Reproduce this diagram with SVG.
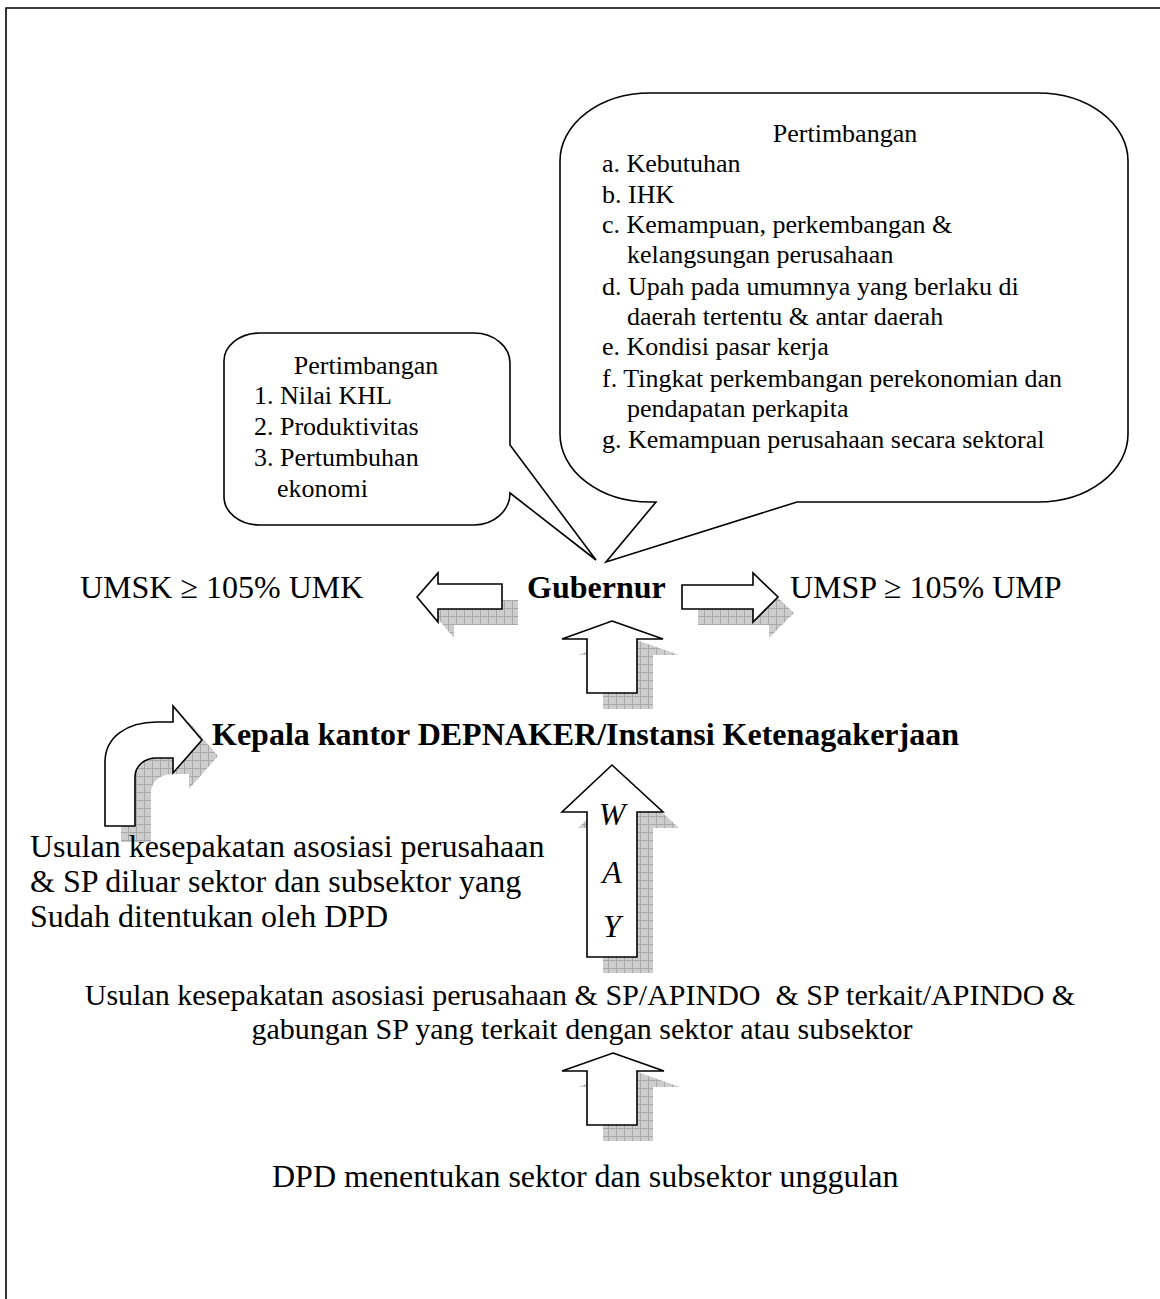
<svg xmlns="http://www.w3.org/2000/svg" width="1160" height="1299" viewBox="0 0 1160 1299">
<style>
.t{font-family:"Liberation Serif","Times New Roman",serif;fill:#000}
.r32{font-size:32px}
.r30{font-size:30px}
.c26{font-size:26px}
.b32{font-size:32px;font-weight:bold}
.i32{font-size:32px;font-style:italic}
.arrow{fill:#fff;stroke:#000;stroke-width:1.6;stroke-linejoin:miter}
.shadow{fill:url(#grid);stroke:none}
.callout{fill:#fff;stroke:#000;stroke-width:1.6}
.frame{fill:none;stroke:#000;stroke-width:1.6}
</style>
<defs>
<pattern id="grid" width="8" height="8" patternUnits="userSpaceOnUse">
<rect width="8" height="8" fill="#cdcdcd"/>
<path d="M0 0.5H8M0.5 0V8" stroke="#a9a9a9" stroke-width="1"/>
</pattern>
<path id="aLeft" d="M417,597 L438,573 L438,584 L502,584 L502,609 L438,609 L438,622 Z"/>
<path id="aRight" d="M682,585 L753,585 L753,573 L778,597 L753,622 L753,609 L682,609 Z"/>
<path id="aUp1" d="M612,621 L663,639 L637,639 L637,693 L587,693 L587,639 L562,639 Z"/>
<path id="aWay" d="M612,765 L663,812 L637,812 L637,957 L587,957 L587,812 L562,812 Z"/>
<path id="aUp2" d="M613,1053 L664,1071 L637,1071 L637,1125 L587,1125 L587,1071 L562,1071 Z"/>
<path id="aBent" d="M105,826 L105,762 C105,737 127,722 157,722 L173,722 L173,706 L202,740 L173,773 L173,758 L157,758 C143,758 135,767 135,777 L135,826 Z"/>
</defs>
<rect width="1160" height="1299" fill="#fff"/>
<path class="frame" d="M6,1299 V8 H1160"/>

<g id="connectors">
<g transform="translate(16,16)" class="shadow">
<use href="#aLeft"/><use href="#aRight"/><use href="#aUp1"/><use href="#aWay"/><use href="#aUp2"/><use href="#aBent"/>
</g>
<use href="#aLeft" class="arrow"/>
<use href="#aRight" class="arrow"/>
<use href="#aUp1" class="arrow"/>
<use href="#aWay" class="arrow"/>
<use href="#aUp2" class="arrow"/>
<use href="#aBent" class="arrow"/>
<g class="t i32" text-anchor="middle">
<text x="612" y="825">W</text>
<text x="612" y="883">A</text>
<text x="612" y="937">Y</text>
</g>
</g>

<g id="callout-big">
<path class="callout" d="M650,93 H1038 A90,68 0 0 1 1128,161 V434 A90,68 0 0 1 1038,502 H797 L606,562 L656,502 H650 A90,68 0 0 1 560,434 V161 A90,68 0 0 1 650,93 Z"/>
<g class="t c26">
<text x="845" y="142" text-anchor="middle">Pertimbangan</text>
<text x="602" y="172">a. Kebutuhan</text>
<text x="602" y="203">b. IHK</text>
<text x="602" y="233">c. Kemampuan, perkembangan &amp;</text>
<text x="627" y="263">kelangsungan perusahaan</text>
<text x="602" y="295">d. Upah pada umumnya yang berlaku di</text>
<text x="627" y="325">daerah tertentu &amp; antar daerah</text>
<text x="602" y="355">e. Kondisi pasar kerja</text>
<text x="602" y="387">f. Tingkat perkembangan perekonomian dan</text>
<text x="627" y="417">pendapatan perkapita</text>
<text x="602" y="448">g. Kemampuan perusahaan secara sektoral</text>
</g>
</g>

<g id="callout-small">
<path class="callout" d="M260,333 H474 A36,30 0 0 1 510,363 V445 L596,560 L510,493 A36,32 0 0 1 474,525 H260 A36,28 0 0 1 224,497 V361 A36,28 0 0 1 260,333 Z"/>
<g class="t c26">
<text x="366" y="374" text-anchor="middle">Pertimbangan</text>
<text x="254" y="404">1. Nilai KHL</text>
<text x="254" y="435">2. Produktivitas</text>
<text x="254" y="466">3. Pertumbuhan</text>
<text x="277" y="497">ekonomi</text>
</g>
</g>

<g id="gubernur"><text class="t b32" x="527" y="598">Gubernur</text></g>
<g id="umsk"><text class="t r32" x="80" y="598">UMSK ≥ 105% UMK</text></g>
<g id="umsp"><text class="t r32" x="790" y="598">UMSP ≥ 105% UMP</text></g>
<g id="kepala"><text class="t b32" x="212" y="745">Kepala kantor DEPNAKER/Instansi Ketenagakerjaan</text></g>
<g id="usulan-luar" class="t r32">
<text x="30" y="857">Usulan kesepakatan asosiasi perusahaan</text>
<text x="30" y="892">&amp; SP diluar sektor dan subsektor yang</text>
<text x="30" y="927">Sudah ditentukan oleh DPD</text>
</g>
<g id="usulan-sektor" class="t r30" text-anchor="middle">
<text x="580" y="1005" xml:space="preserve">Usulan kesepakatan asosiasi perusahaan &amp; SP/APINDO  &amp; SP terkait/APINDO &amp;</text>
<text x="582" y="1039">gabungan SP yang terkait dengan sektor atau subsektor</text>
</g>
<g id="dpd"><text class="t r32" x="272" y="1187">DPD menentukan sektor dan subsektor unggulan</text></g>
</svg>
